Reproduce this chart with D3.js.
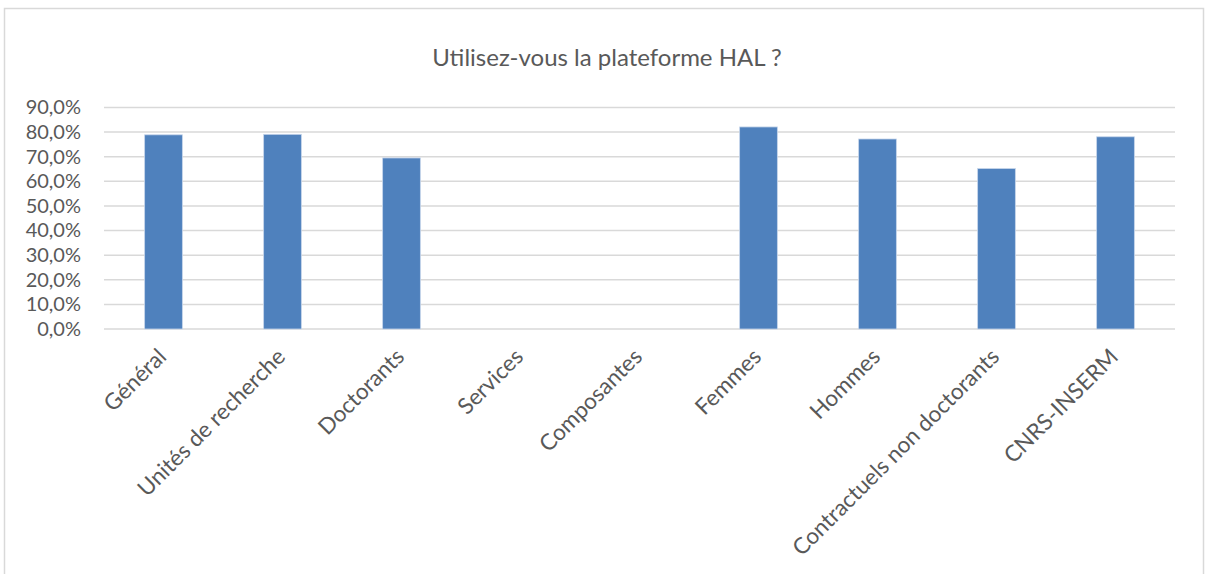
<!DOCTYPE html>
<html><head><meta charset="utf-8">
<script src="https://cdn.jsdelivr.net/npm/d3@7"></script>
<style>
html,body{margin:0;padding:0;background:#fff;}
text{font-family:Lato,"Open Sans",sans-serif;fill:#595959;}
</style></head>
<body>
<svg id="chart" width="1206" height="574"></svg>
<script>
const categories = ["Général","Unités de recherche","Doctorants","Services","Composantes","Femmes","Hommes","Contractuels non doctorants","CNRS-INSERM"];
const values = [0.789, 0.791, 0.695, null, null, 0.821, 0.772, 0.652, 0.781];
const yTicks = [0,0.1,0.2,0.3,0.4,0.5,0.6,0.7,0.8,0.9];
const title = "Utilisez-vous la plateforme HAL ?";

const svg = d3.select("#chart");
const W = 1206, H = 574;
const m = {left:104, right:31, top:107.5, bottom:245};
const pw = W - m.left - m.right, ph = H - m.top - m.bottom;
const FONT = "Lato,'Open Sans',sans-serif";

svg.append("rect").attr("x",4.5).attr("y",8.5).attr("width",1199).attr("height",580)
  .attr("fill","#fff").attr("stroke","#d9d9d9").attr("stroke-width",1.5);

svg.append("text").attr("x",607).attr("y",66).attr("text-anchor","middle")
  .style("font-size","24px").style("font-family",FONT).text(title);

const x = d3.scaleBand().domain(categories).range([m.left, m.left+pw]).paddingInner(0).paddingOuter(0);
const y = d3.scaleLinear().domain([0,0.9]).range([m.top+ph, m.top]);

const fmt = v => d3.format(".1f")(v*100).replace(".",",") + "%";

const g = svg.append("g");
g.selectAll("line.grid").data(yTicks).join("line").attr("class","grid")
  .attr("x1",m.left).attr("x2",m.left+pw)
  .attr("y1",d=>y(d)).attr("y2",d=>y(d))
  .attr("stroke","#d9d9d9").attr("stroke-width",1.5);

const yAxis = d3.axisLeft(y).tickValues(yTicks).tickFormat(fmt).tickSize(0).tickPadding(23);
const ya = svg.append("g").attr("transform",`translate(${m.left},0)`).call(yAxis);
ya.select(".domain").remove();
ya.selectAll("text").style("font-size","20px").attr("fill","#595959").style("font-family",FONT);

const bw = x.bandwidth()*0.317;
svg.append("g").selectAll("rect").data(categories.map((c,i)=>({c,v:values[i]})).filter(d=>d.v!=null))
  .join("rect")
  .attr("x",d=>x(d.c)+x.bandwidth()/2-bw/2)
  .attr("width",bw)
  .attr("y",d=>y(d.v))
  .attr("height",d=>y(0)-y(d.v))
  .attr("fill","#4f81bd").attr("stroke","#c6d5ea").attr("stroke-width",0.8);

const xa = svg.append("g").attr("transform",`translate(0,${m.top+ph})`)
  .call(d3.axisBottom(x).tickSize(0).tickPadding(0));
xa.select(".domain").remove();
xa.selectAll("text")
  .style("font-size","22.5px").attr("fill","#595959").style("font-family",FONT)
  .attr("text-anchor","end")
  .attr("transform","translate(-7,18) rotate(-45)")
  .attr("dy","0.7em").attr("dx","0");
</script>
</body></html>
